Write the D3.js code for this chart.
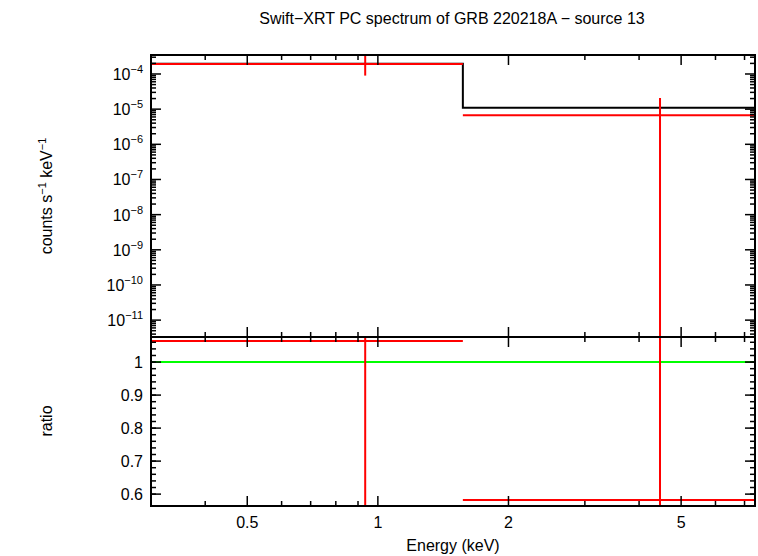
<!DOCTYPE html><html><head><meta charset="utf-8"><script src="https://cdn.jsdelivr.net/npm/d3@7"></script>
<style>body{margin:0;background:#fff}svg{font-family:"Liberation Sans",Arial,sans-serif}</style></head><body><svg id="c" width="758" height="556"></svg>
<script>
const title="Swift\u2212XRT PC spectrum of GRB 220218A \u2212 source 13";
const binLo=[0.3,1.57], binHi=[1.57,7.4], binCen=[0.935,4.47];
const rate=[1.93e-4,6.7e-6], rateErrHi=[3.6e-4,2.06e-5], rateErrLo=[9e-5,1e-12];
const model=[1.95e-4,1.1e-5];
const ratio=[1.064,0.582], ratioErrHi=[1.2,1.2], ratioErrLo=[0.5,0.5];
const xTicks=[0.5,1,2,5], yTopExp=[-4,-5,-6,-7,-8,-9,-10,-11], yBotTicks=[0.6,0.7,0.8,0.9,1];
const svg=d3.select("#c");
const L=151,R=755,T1=55,B1=337,B2=506;
const x=d3.scaleLog().domain([0.3,7.4]).range([L,R]);
const y1=d3.scaleLog().domain([10**-11.48,10**-3.46]).range([B1,T1]);
const y2=d3.scaleLinear().domain([0.564,1.076]).range([B2,B1]);
svg.append("text").attr("x",452).attr("y",24).attr("text-anchor","middle").attr("font-size",16).text(title);
const clip1=svg.append("clipPath").attr("id","p1").append("rect").attr("x",L).attr("y",T1).attr("width",R-L).attr("height",B1-T1);
svg.append("clipPath").attr("id","p2").append("rect").attr("x",L).attr("y",B1).attr("width",R-L).attr("height",B2-B1);
const g1=svg.append("g").attr("clip-path","url(#p1)"), g2=svg.append("g").attr("clip-path","url(#p2)");
// model
g1.append("path").attr("d",d3.line().curve(d3.curveStepAfter)([[x(binLo[0]),y1(model[0])],[x(binLo[1]),y1(model[1])],[x(binHi[1]),y1(model[1])]])).attr("fill","none").attr("stroke","#000").attr("stroke-width",2);
rate.forEach((v,i)=>{
 g1.append("line").attr("x1",x(binLo[i])).attr("x2",x(binHi[i])).attr("y1",y1(v)).attr("y2",y1(v)).attr("stroke","red").attr("stroke-width",2);
 g1.append("line").attr("x1",x(binCen[i])).attr("x2",x(binCen[i])).attr("y1",y1(rateErrHi[i])).attr("y2",y1(rateErrLo[i])).attr("stroke","red").attr("stroke-width",2);
});
g2.append("line").attr("x1",L).attr("x2",R).attr("y1",y2(1)).attr("y2",y2(1)).attr("stroke","#0f0").attr("stroke-width",2);
ratio.forEach((v,i)=>{
 g2.append("line").attr("x1",x(binLo[i])).attr("x2",x(binHi[i])).attr("y1",y2(v)).attr("y2",y2(v)).attr("stroke","red").attr("stroke-width",2);
 g2.append("line").attr("x1",x(binCen[i])).attr("x2",x(binCen[i])).attr("y1",y2(ratioErrHi[i])).attr("y2",y2(ratioErrLo[i])).attr("stroke","red").attr("stroke-width",2);
});
// frames
[[T1,B1],[B1,B2]].forEach(([t,b])=>svg.append("rect").attr("x",L).attr("y",t).attr("width",R-L).attr("height",b-t).attr("fill","none").attr("stroke","#000").attr("stroke-width",2));
// x ticks
const minor=[];for(let d=0.1;d<10;d*=10)for(let k=1;k<10;k++){const v=+(k*d).toFixed(3);if(v>=0.3&&v<=7.4)minor.push(v);}
const tk=svg.append("g").attr("stroke","#000").attr("stroke-width",1.5);
minor.forEach(v=>{const big=xTicks.includes(v)||v===1;const len=big?10:5;
 [[T1,1],[B1,-1],[B1,1],[B2,-1]].forEach(([yy,s])=>tk.append("line").attr("x1",x(v)).attr("x2",x(v)).attr("y1",yy).attr("y2",yy+s*len));});
xTicks.forEach(v=>svg.append("text").attr("x",x(v)).attr("y",528).attr("text-anchor","middle").attr("font-size",16).text(v));
svg.append("text").attr("x",453).attr("y",551).attr("text-anchor","middle").attr("font-size",16).text("Energy (keV)");
// y1 ticks
for(let e=-12;e<=-3;e++)for(let k=1;k<10;k++){const v=k*10**e;if(v<y1.domain()[0]||v>y1.domain()[1])continue;const len=k===1?10:5;
 tk.append("line").attr("x1",L).attr("x2",L+len).attr("y1",y1(v)).attr("y2",y1(v));
 tk.append("line").attr("x1",R).attr("x2",R-len).attr("y1",y1(v)).attr("y2",y1(v));}
yTopExp.forEach(e=>{const t=svg.append("text").attr("x",143).attr("y",y1(10**e)+6).attr("text-anchor","end").attr("font-size",16);
 t.append("tspan").text("10");t.append("tspan").attr("dy",-7).attr("font-size",11).text("\u2212"+(-e));});
yBotTicks.forEach(v=>{tk.append("line").attr("x1",L).attr("x2",L+10).attr("y1",y2(v)).attr("y2",y2(v));
 tk.append("line").attr("x1",R).attr("x2",R-10).attr("y1",y2(v)).attr("y2",y2(v));
 svg.append("text").attr("x",143).attr("y",y2(v)+6).attr("text-anchor","end").attr("font-size",16).text(v===1?"1":v.toFixed(1));});
for(let v=0.6;v<=1.07;v+=0.02){tk.append("line").attr("x1",L).attr("x2",L+5).attr("y1",y2(v)).attr("y2",y2(v));tk.append("line").attr("x1",R).attr("x2",R-5).attr("y1",y2(v)).attr("y2",y2(v));}
const yl=svg.append("text").attr("transform","translate(52,196) rotate(-90)").attr("text-anchor","middle").attr("font-size",16);
yl.append("tspan").text("counts s");yl.append("tspan").attr("dy",-6).attr("font-size",11).text("\u22121");yl.append("tspan").attr("dy",6).text(" keV");yl.append("tspan").attr("dy",-6).attr("font-size",11).text("\u22121");
svg.append("text").attr("transform","translate(52,421) rotate(-90)").attr("text-anchor","middle").attr("font-size",16).text("ratio");
</script></body></html>
